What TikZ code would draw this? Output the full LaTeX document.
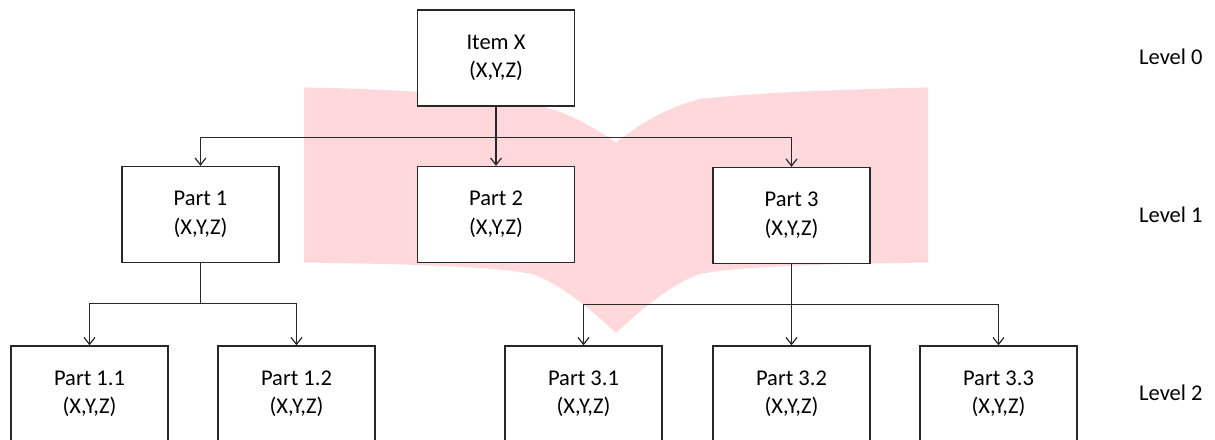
\documentclass[tikz,border=0pt]{standalone}
\usepackage{fontspec}
\setmainfont{Carlito}
\usetikzlibrary{arrows.meta}
\definecolor{pagepink}{RGB}{255,216,219}
\definecolor{ink}{RGB}{40,40,40}
\begin{document}
\begin{tikzpicture}[x=1pt,y=-1pt,
  part/.style={draw=ink, line width=1.3pt, fill=white, minimum width=157pt,
    minimum height=96pt, inner sep=0pt, align=center,
    font=\fontsize{22.5}{28.5}\selectfont},
  link/.style={draw=ink, line width=1.3pt},
  tip/.style={link, -{Straight Barb[length=7pt,width=11pt,line width=1.2pt]}},
  lvl/.style={anchor=west, inner sep=0pt, font=\fontsize{22.5}{28.5}\selectfont}]
\useasboundingbox (0,0) rectangle (1215,439);

% open book backdrop
\fill[pagepink] (304,87.5)
  .. controls (400,89) and (480,95) .. (530,104)
  .. controls (565,110) and (590,125) .. (616,142.5)
  .. controls (640,124) and (665,108) .. (700,99)
  .. controls (760,92) and (860,89) .. (928,87.5)
  -- (928,262.5)
  .. controls (830,264) and (740,266) .. (700,274)
  .. controls (675,282) and (642,308) .. (616,333.3)
  .. controls (590,308) and (557,282) .. (532,274)
  .. controls (492,266) and (402,264) .. (304,262.5)
  -- cycle;

% level 0
\node[part] (x) at (496,58) {Item X\\(X,Y,Z)};
% level 1
\node[part] (p1) at (200.5,214.5) {Part 1\\(X,Y,Z)};
\node[part] (p2) at (496,214.5) {Part 2\\(X,Y,Z)};
\node[part] (p3) at (791.5,215.5) {Part 3\\(X,Y,Z)};
% level 2
\node[part] (p11) at (89.5,394) {Part 1.1\\(X,Y,Z)};
\node[part] (p12) at (296.5,394) {Part 1.2\\(X,Y,Z)};
\node[part] (p31) at (583.5,394) {Part 3.1\\(X,Y,Z)};
\node[part] (p32) at (791.5,394) {Part 3.2\\(X,Y,Z)};
\node[part] (p33) at (998.5,394) {Part 3.3\\(X,Y,Z)};

% level labels
\node[lvl] (l0) at (1139,57) {Level 0};
\node[lvl] (l1) at (1139,215) {Level 1};
\node[lvl] (l2) at (1139,393) {Level 2};

% branch points
\path (x.south) ++(0,31) coordinate (b0);
\path (p1.south) ++(0,40) coordinate (b1);
\path (p3.south) ++(0,40) coordinate (b3);

% connectors
\draw[link] (x.south) -- (b0);
\draw[tip] (b0) -| (p1);
\draw[tip] (b0) -- (p2);
\draw[tip] (b0) -| (p3);

\draw[link] (p1.south) -- (b1);
\draw[tip] (b1) -| (p11);
\draw[tip] (b1) -| (p12);

\draw[link] (p3.south) -- (b3);
\draw[tip] (b3) -| (p31);
\draw[tip] (b3) -- (p32);
\draw[tip] (b3) -| (p33);
\end{tikzpicture}
\end{document}
